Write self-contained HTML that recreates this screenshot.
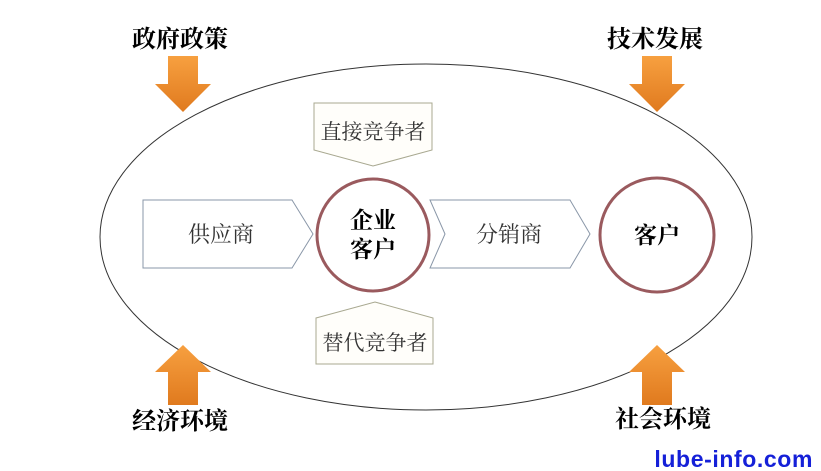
<!DOCTYPE html>
<html><head><meta charset="utf-8"><style>
html,body{margin:0;padding:0;background:#fff;}
svg{display:block;}
text{font-family:"Liberation Serif","Noto Serif CJK SC",serif;}
</style></head><body>
<svg width="821" height="471" viewBox="0 0 821 471" xmlns="http://www.w3.org/2000/svg">
<defs>
<linearGradient id="g" x1="0" y1="0" x2="0" y2="1">
<stop offset="0" stop-color="#f7a040"/><stop offset="1" stop-color="#e07a1e"/>
</linearGradient>
</defs>
<ellipse cx="426" cy="237" rx="326" ry="173" fill="none" stroke="#333" stroke-width="1"/>
<polygon points="168,56 198,56 198,84 211,84 183,112 155,84 168,84" fill="url(#g)"/>
<polygon points="642,56 672,56 672,84 685,84 657,112 629,84 642,84" fill="url(#g)"/>
<polygon points="168,405 198,405 198,372 211,372 183,345 155,372 168,372" fill="url(#g)"/>
<polygon points="642,405 672,405 672,372 685,372 657,345 629,372 642,372" fill="url(#g)"/>
<text x="180" y="47" font-size="24" font-weight="bold" text-anchor="middle">政府政策</text>
<text x="655" y="47" font-size="24" font-weight="bold" text-anchor="middle">技术发展</text>
<text x="180" y="429" font-size="24" font-weight="bold" text-anchor="middle">经济环境</text>
<text x="663" y="427" font-size="24" font-weight="bold" text-anchor="middle">社会环境</text>
<polygon points="143,200 292,200 313,234 292,268 143,268" fill="#fff" stroke="#8a97a8" stroke-width="1"/>
<text x="221" y="242" font-size="22" text-anchor="middle" fill="#333">供应商</text>
<polygon points="430,200 570,200 590,234 570,268 430,268 445,234" fill="#fff" stroke="#8a97a8" stroke-width="1"/>
<text x="509" y="242" font-size="22" text-anchor="middle" fill="#333">分销商</text>
<circle cx="373" cy="235" r="56" fill="#fff" stroke="#9a5a5e" stroke-width="3"/>
<text x="373" y="228" font-size="23" font-weight="bold" text-anchor="middle">企业</text>
<text x="373" y="257" font-size="23" font-weight="bold" text-anchor="middle">客户</text>
<circle cx="657" cy="235" r="57" fill="#fff" stroke="#9a5a5e" stroke-width="3"/>
<text x="657" y="243" font-size="23" font-weight="bold" text-anchor="middle">客户</text>
<polygon points="314,103 432,103 432,150 373,166 314,150" fill="#fffefa" stroke="#a8a890" stroke-width="1"/>
<text x="373" y="139" font-size="21" text-anchor="middle" fill="#333">直接竞争者</text>
<polygon points="316,318 375,302 433,318 433,364 316,364" fill="#fffefa" stroke="#a8a890" stroke-width="1"/>
<text x="375" y="350" font-size="21" text-anchor="middle" fill="#333">替代竞争者</text>
<text x="813" y="467" font-size="23" font-weight="bold" text-anchor="end" fill="#1520d8" letter-spacing="0.6" style="font-family:'Liberation Sans',sans-serif">lube-info.com</text>
</svg>
</body></html>
